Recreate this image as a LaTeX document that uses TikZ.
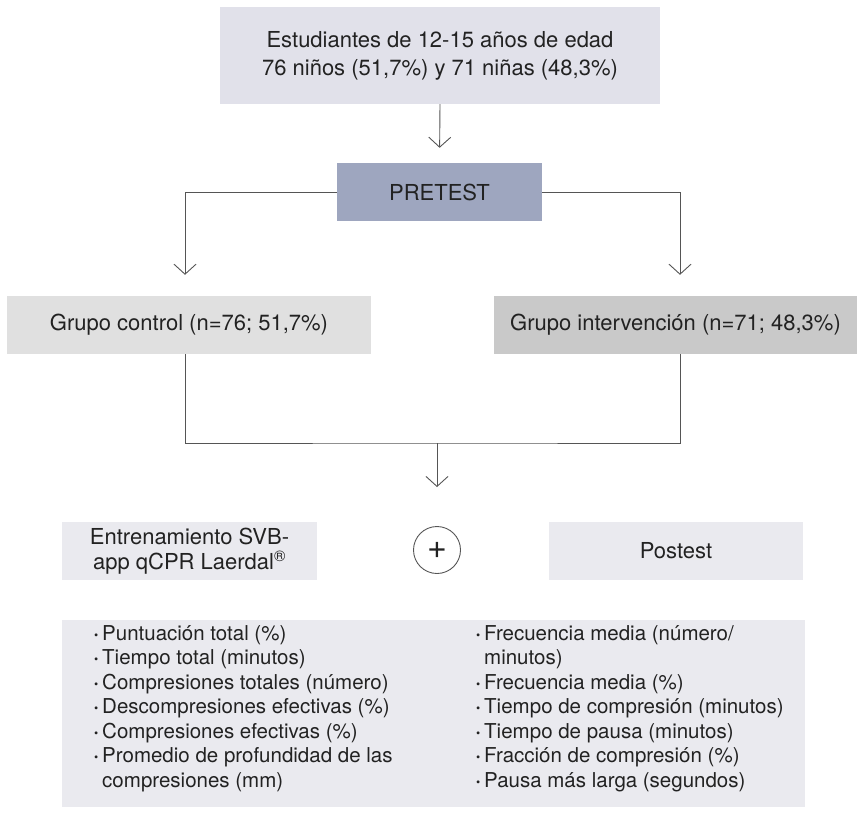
\documentclass[tikz,border=0pt]{standalone}
\usepackage{fontspec}
\setmainfont{TeX Gyre Heros}
\usetikzlibrary{arrows.meta}

\definecolor{lila}{HTML}{E1E1EA}
\definecolor{pretestazul}{HTML}{9EA6BF}
\definecolor{grisclaro}{HTML}{E0E0E0}
\definecolor{grismedio}{HTML}{C9C9C9}
\definecolor{lilaclaro}{HTML}{EAEAEF}
\definecolor{linea}{HTML}{555555}
\definecolor{texto}{HTML}{222222}

\newcommand{\vineta}{\makebox[8pt][l]{\raisebox{1pt}{\fontsize{12}{12}\selectfont\textbullet}}}
\newcommand{\sangria}{\hspace*{8pt}}

\begin{document}
\begin{tikzpicture}[x=1pt, y=-1pt,
    caja/.style={inner sep=0pt, align=center, text=texto,
                 font=\fontsize{22}{28}\selectfont},
    flecha/.style={draw=linea, line width=0.9pt,
                   -{Straight Barb[length=10pt, width=22pt, line width=0.9pt]}},
    conector/.style={draw=linea, line width=0.9pt},
    lista/.style={anchor=north west, inner sep=0pt, align=left, text=texto,
                  font=\fontsize{20.5}{24.5}\selectfont}]
  \useasboundingbox (0,0) rectangle (863,815);
  % cajas
  \node[caja, fill=lila, minimum width=440pt, minimum height=97pt] (poblacion) at (440,55.5)
    {Estudiantes de 12-15 años de edad\\76 niños (51,7\%) y 71 niñas (48,3\%)};
  \node[caja, fill=pretestazul, minimum width=205pt, minimum height=58pt] (pretest) at (439.5,192) {PRETEST};
  \node[caja, fill=grisclaro, minimum width=364pt, minimum height=58pt] (control) at (189,325)
    {Grupo control (n=76; 51,7\%)};
  \node[caja, fill=grismedio, minimum width=363pt, minimum height=58pt] (interv) at (675.5,325)
    {Grupo intervención (n=71; 48,3\%)};
  \node[caja, fill=lilaclaro, minimum width=255pt, minimum height=58pt, font=\fontsize{22}{25}\selectfont] (entren) at (189.5,551)
    {Entrenamiento SVB-\\app qCPR Laerdal\textsuperscript{®}};
  \node[caja, fill=lilaclaro, minimum width=254pt, minimum height=58pt] (postest) at (676,551) {Postest};
  \node[circle, draw=linea, line width=0.9pt, minimum size=47pt, inner sep=0pt, text=texto,
        font=\fontsize{34}{34}\selectfont] (mas) at (437,550) {+};
  % variables medidas
  \fill[lilaclaro] (62,620) rectangle (805,807);
  \node[lista] (varizq) at (94,625)
    {\vineta Puntuación total (\%)\\
     \vineta Tiempo total (minutos)\\
     \vineta Compresiones totales (número)\\
     \vineta Descompresiones efectivas (\%)\\
     \vineta Compresiones efectivas (\%)\\
     \vineta Promedio de profundidad de las\\
     \sangria compresiones (mm)};
  \node[lista] (varder) at (476,625)
    {\vineta Frecuencia media (número/\\
     \sangria minutos)\\
     \vineta Frecuencia media (\%)\\
     \vineta Tiempo de compresión (minutos)\\
     \vineta Tiempo de pausa (minutos)\\
     \vineta Fracción de compresión (\%)\\
     \vineta Pausa más larga (segundos)};
  % conectores
  \coordinate (ctrlarriba) at ([xshift=-4pt]control.north);
  \coordinate (ctrlabajo) at ([xshift=-4pt]control.south);
  \coordinate (intarriba) at ([xshift=4.5pt]interv.north);
  \coordinate (intabajo) at ([xshift=4.5pt]interv.south);
  \coordinate (unioninf) at (437,443);
  \draw[flecha, shorten >=15pt] (poblacion.south) -- (pretest.north);
  \draw[conector] (pretest.west) -- (ctrlarriba |- pretest.west);
  \draw[flecha, shorten >=21pt] (ctrlarriba |- pretest.west) -- (ctrlarriba);
  \draw[conector] (pretest.east) -- (intarriba |- pretest.east);
  \draw[flecha, shorten >=21pt] (intarriba |- pretest.east) -- (intarriba);
  \draw[conector] (ctrlabajo) |- (unioninf) -| (intabajo);
  \draw[flecha, shorten >=39pt] (unioninf) -- (mas.north);
\end{tikzpicture}
\end{document}
